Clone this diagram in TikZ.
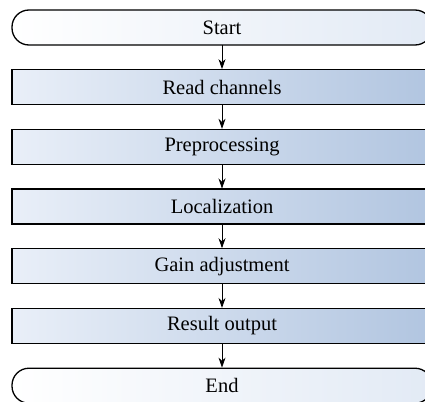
\documentclass[tikz,border=0pt]{standalone}
\usepackage{fontspec}
\setmainfont{Liberation Serif}
\usetikzlibrary{arrows.meta,positioning}

\definecolor{boxl}{HTML}{E9EFF8}
\definecolor{boxr}{HTML}{B1C5E0}
\definecolor{terml}{HTML}{FFFFFF}
\definecolor{termr}{HTML}{E2EAF5}

\tikzset{
  stepbox/.style={draw, line width=1.3pt, minimum width=420pt, minimum height=35pt,
    inner sep=0pt, outer sep=0pt, left color=boxl, right color=boxr,
    font=\fontsize{20.5}{23}\selectfont},
  termbox/.style={stepbox, rounded corners=17pt, left color=terml, right color=termr},
  flow/.style={-{Stealth[length=10pt,width=7pt]}, line width=0.8pt, shorten >=0.6pt}
}

\begin{document}
\begin{tikzpicture}[node distance=24.7pt]
\useasboundingbox (0,0) rectangle (425pt,-401pt);
\clip (0,0) rectangle (425pt,-401pt);

\node[termbox] (start) at (222pt,-27.5pt) {Start};
\node[stepbox, below=of start] (read) {Read channels};
\node[stepbox, below=of read] (prep) {Preprocessing};
\node[stepbox, below=of prep] (loc) {Localization};
\node[stepbox, below=of loc] (gain) {Gain adjustment};
\node[stepbox, below=of gain] (res) {Result output};
\node[termbox, below=of res] (end) {End};

\foreach \a/\b in {start/read, read/prep, prep/loc, loc/gain, gain/res, res/end}
  \draw[flow] (\a) -- (\b);
\end{tikzpicture}
\end{document}
